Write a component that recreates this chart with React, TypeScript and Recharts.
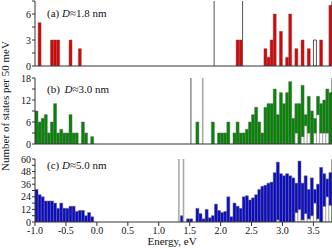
import { BarChart, Bar, XAxis, YAxis, ReferenceLine } from "recharts";

// 50 meV bins from -1.0 eV to 3.8 eV (96 bins); values are counts per bin
const E_START = -1.0;
const E_STEP = 0.05;

// (a) D≈1.8 nm
const aFilled = [
  0, 5, 0, 0, 0, 3, 3, 3, 0, 0, 0, 3, 0, 0, 2, 0,
  0, 0, 0, 0, 0, 0, 0, 0, 0, 0, 0, 0, 0, 0, 0, 0,
  0, 0, 0, 0, 0, 0, 0, 0, 0, 0, 0, 0, 0, 0, 0, 0,
  0, 0, 0, 0, 0, 0, 0, 0, 0, 0, 0, 0, 0, 0, 0, 0,
  0, 3, 3, 0, 0, 0, 0, 0, 0, 0, 2, 1, 3, 6, 0, 4,
  0, 1, 6, 0, 2, 0, 3, 0, 2, 0, 0, 0, 3, 0, 0, 7,
];
const aHollow = [
  0, 0, 0, 0, 0, 0, 0, 0, 0, 0, 0, 0, 0, 0, 0, 0,
  0, 0, 0, 0, 0, 0, 0, 0, 0, 0, 0, 0, 0, 0, 0, 0,
  0, 0, 0, 0, 0, 0, 0, 0, 0, 0, 0, 0, 0, 0, 0, 0,
  0, 0, 0, 0, 0, 0, 0, 0, 0, 0, 0, 0, 0, 0, 0, 0,
  0, 0, 0, 0, 0, 0, 0, 0, 0, 0, 0, 0, 0, 0, 0, 0,
  0, 0, 0, 0, 0, 0, 0, 0, 0, 0, 3, 0, 0, 0, 0, 0,
];

// (b) D≈3.0 nm
const bFilled = [
  9, 6, 7, 8, 3, 6, 11, 3, 4, 3, 3, 8, 3, 3, 0, 6,
  3, 0, 2, 0, 0, 0, 0, 0, 0, 0, 0, 0, 0, 0, 0, 0,
  0, 0, 0, 0, 0, 0, 0, 0, 0, 0, 0, 0, 0, 0, 0, 0,
  0, 0, 0, 0, 6, 0, 0, 0, 0, 6, 0, 3, 3, 3, 6, 0,
  3, 6, 3, 3, 4, 6, 8, 10, 6, 3, 10, 11, 11, 15, 8, 14,
  11, 14, 17, 7, 8, 11, 14, 3, 10, 9, 4, 5, 8, 9, 12, 14,
];
const bHollow = [
  0, 0, 0, 0, 0, 0, 0, 0, 0, 0, 0, 0, 0, 0, 0, 0,
  0, 0, 0, 0, 0, 0, 0, 0, 0, 0, 0, 0, 0, 0, 0, 0,
  0, 0, 0, 0, 0, 0, 0, 0, 0, 0, 0, 0, 0, 0, 0, 0,
  0, 0, 0, 0, 0, 0, 0, 0, 0, 0, 0, 0, 0, 0, 0, 0,
  0, 0, 0, 0, 0, 0, 0, 0, 0, 0, 0, 0, 0, 0, 0, 0,
  0, 0, 0, 0, 3, 0, 2, 5, 3, 0, 3, 8, 3, 3, 3, 0,
];

// (c) D≈5.0 nm
const cFilled = [
  31, 26, 24, 20, 20, 20, 18, 13, 18, 13, 13, 15, 15, 10, 11, 11,
  6, 9, 5, 0, 0, 0, 0, 0, 0, 0, 0, 0, 0, 0, 0, 0,
  0, 0, 0, 0, 0, 0, 0, 0, 0, 0, 0, 0, 0, 0, 0, 6,
  0, 3, 3, 0, 13, 8, 3, 12, 4, 6, 17, 11, 9, 10, 24, 5,
  18, 15, 13, 24, 25, 21, 23, 26, 31, 34, 35, 37, 38, 47, 55, 46,
  44, 46, 44, 42, 28, 46, 35, 36, 28, 36, 13, 33, 52, 31, 17, 31,
];
const cHollow = [
  0, 0, 0, 0, 0, 0, 0, 0, 0, 0, 0, 0, 0, 0, 0, 0,
  0, 0, 0, 0, 0, 0, 0, 0, 0, 0, 0, 0, 0, 0, 0, 0,
  0, 0, 0, 0, 0, 0, 0, 0, 0, 0, 0, 0, 0, 0, 0, 0,
  0, 0, 0, 0, 0, 0, 0, 0, 0, 0, 0, 0, 0, 0, 0, 0,
  0, 0, 0, 0, 0, 0, 0, 0, 0, 0, 0, 0, 0, 0, 2, 0,
  0, 0, 0, 0, 9, 12, 2, 8, 3, 6, 18, 3, 0, 15, 24, 16,
];

const xTicks = [-1.0, -0.5, 0.0, 0.5, 1.0, 1.5, 2.0, 2.5, 3.0, 3.5];
const aYTicks = [0, 1.5, 3, 4.5, 6, 7.5];
const aYLabels = [0, 3, 6];
const bYTicks = [0, 3, 6, 9, 12, 15, 18];
const bYLabels = [0, 6, 12, 18];
const cYTicks = [0, 6, 12, 18, 24, 30, 36, 42, 48, 54, 60];
const cYLabels = [0, 12, 24, 36, 48, 60];

// level markers (eV)
const aLines = [1.895, 2.355];
const bLines = [1.52, 1.71];
const cLines = [1.325, 1.4];

const FONT = "'Liberation Serif', 'Times New Roman', serif";
const AXIS = "#333";

type Line = { x: number; color: string; width: number };

function Panel({
  top,
  height,
  marginTop,
  xHeight,
  filled,
  hollow,
  color,
  hollowStroke,
  yMax,
  yTicks,
  yLabels,
  lines,
  showX,
}: {
  top: number;
  height: number;
  marginTop: number;
  xHeight: number;
  filled: number[];
  hollow: number[];
  color: string;
  hollowStroke: string;
  yMax: number;
  yTicks: number[];
  yLabels: number[];
  lines: Line[];
  showX: boolean;
}) {
  const data = filled.map((v, i) => ({
    e: +(E_START + E_STEP * (i + 0.5)).toFixed(3),
    hollow: hollow[i],
    filled: v,
  }));
  return (
    <div style={{ position: "absolute", left: 0, top }}>
      <BarChart
        width={332}
        height={height}
        data={data}
        margin={{ top: marginTop, right: 0, bottom: 0, left: 0 }}
        barCategoryGap={0}
        barGap={0}
      >
        <XAxis
          type="number"
          dataKey="e"
          domain={[-1, 3.8]}
          allowDataOverflow
          ticks={xTicks}
          interval={0}
          height={xHeight}
          tickSize={4}
          tickMargin={1}
          stroke={AXIS}
          tick={showX ? { fontSize: 10, fill: "#111", fontFamily: FONT } : false}
          tickFormatter={(v: number) => v.toFixed(1)}
        />
        <XAxis
          xAxisId="top"
          orientation="top"
          type="number"
          domain={[-1, 3.8]}
          allowDataOverflow
          ticks={xTicks}
          interval={0}
          mirror
          height={0}
          tickSize={3}
          stroke={AXIS}
          tick={false}
        />
        <YAxis
          domain={[0, yMax]}
          allowDataOverflow
          ticks={yTicks}
          interval={0}
          width={35}
          tickSize={3}
          tickMargin={1}
          stroke={AXIS}
          tick={{ fontSize: 10, fill: "#111", fontFamily: FONT }}
          tickFormatter={(v: number) => (yLabels.includes(v) ? String(v) : "")}
        />
        <YAxis
          yAxisId="r"
          orientation="right"
          domain={[0, yMax]}
          allowDataOverflow
          ticks={yTicks}
          interval={0}
          mirror
          width={1}
          tickSize={3}
          stroke={AXIS}
          tick={false}
        />
        <Bar
          dataKey="hollow"
          stackId="s"
          fill="#fff"
          stroke={hollowStroke}
          strokeWidth={0.7}
          isAnimationActive={false}
        />
        <Bar
          dataKey="filled"
          stackId="s"
          fill={color}
          stroke="#666"
          strokeWidth={0.5}
          isAnimationActive={false}
        />
        {lines.map((l, i) => (
          <ReferenceLine key={i} x={l.x} stroke={l.color} strokeWidth={l.width} />
        ))}
      </BarChart>
    </div>
  );
}

export default function App() {
  const label = { fontFamily: FONT, fontSize: 11, fill: "#111" };
  return (
    <div
      style={{
        position: "absolute",
        left: 0,
        top: 0,
        width: 332,
        height: 248,
        background: "#fff",
      }}
    >
      <Panel
        top={0}
        height={72}
        marginTop={1}
        xHeight={6}
        filled={aFilled}
        hollow={aHollow}
        color="#e00000"
        hollowStroke="#111"
        yMax={7.5}
        yTicks={aYTicks}
        yLabels={aYLabels}
        lines={aLines.map((x) => ({ x, color: "#555", width: 1 }))}
        showX={false}
      />
      <Panel
        top={74}
        height={76}
        marginTop={4}
        xHeight={6}
        filled={bFilled}
        hollow={bHollow}
        color="#008800"
        hollowStroke="#999"
        yMax={18}
        yTicks={bYTicks}
        yLabels={bYLabels}
        lines={[
          { x: bLines[0], color: "#555", width: 1 },
          { x: bLines[1], color: "#aaa", width: 1.6 },
        ]}
        showX={false}
      />
      <Panel
        top={150}
        height={98}
        marginTop={9}
        xHeight={26}
        filled={cFilled}
        hollow={cHollow}
        color="#0a0acc"
        hollowStroke="#999"
        yMax={60}
        yTicks={cYTicks}
        yLabels={cYLabels}
        lines={cLines.map((x) => ({ x, color: "#aaa", width: 1.6 }))}
        showX={true}
      />
      <svg
        width={332}
        height={248}
        style={{ position: "absolute", left: 0, top: 0, pointerEvents: "none" }}
      >
        <text {...label} x={47} y={17}>
          (a) <tspan fontStyle="italic">D</tspan>≈1.8 nm
        </text>
        <text {...label} x={47} y={93}>
          (b) <tspan fontStyle="italic" dx={2}>D</tspan>≈3.0 nm
        </text>
        <text {...label} x={47} y={169}>
          (c) <tspan fontStyle="italic">D</tspan>≈5.0 nm
        </text>
        <text {...label} x={172} y={245} textAnchor="middle">
          Energy, eV
        </text>
        <text
          {...label}
          x={8.5}
          y={106}
          textAnchor="middle"
          transform="rotate(-90, 8.5, 106)"
        >
          Number of states per 50 meV
        </text>
      </svg>
    </div>
  );
}
